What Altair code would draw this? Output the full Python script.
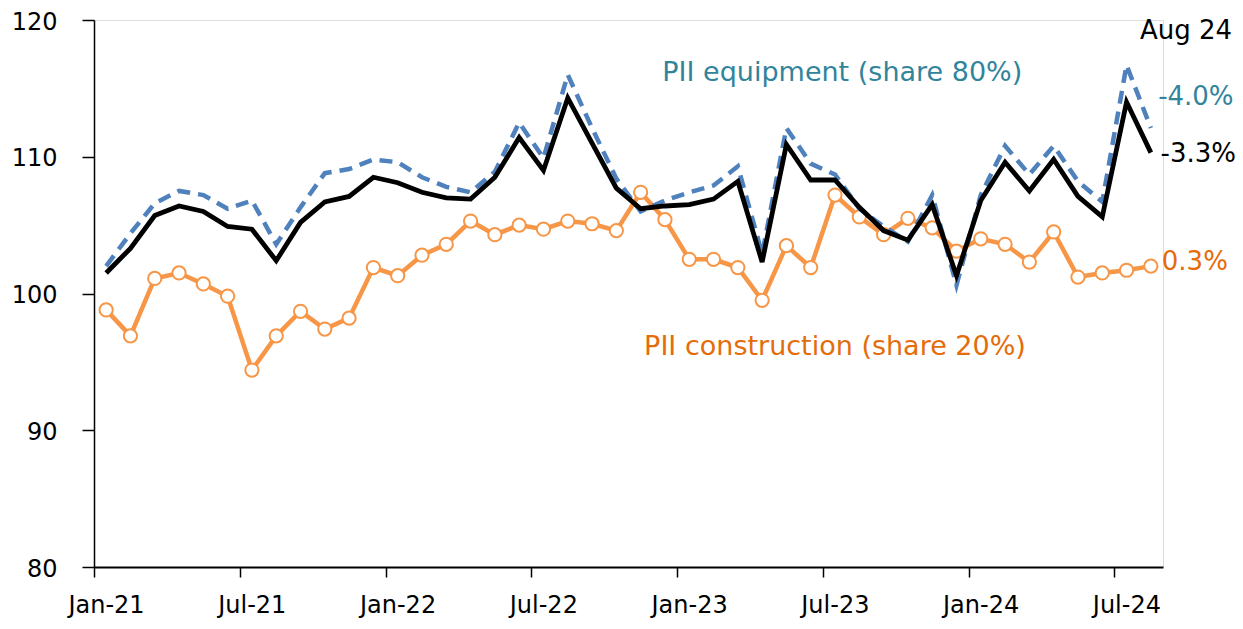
import altair as alt
import pandas as pd

months = ["Jan-21","Feb-21","Mar-21","Apr-21","May-21","Jun-21","Jul-21","Aug-21","Sep-21","Oct-21","Nov-21","Dec-21",
          "Jan-22","Feb-22","Mar-22","Apr-22","May-22","Jun-22","Jul-22","Aug-22","Sep-22","Oct-22","Nov-22","Dec-22",
          "Jan-23","Feb-23","Mar-23","Apr-23","May-23","Jun-23","Jul-23","Aug-23","Sep-23","Oct-23","Nov-23","Dec-23",
          "Jan-24","Feb-24","Mar-24","Apr-24","May-24","Jun-24","Jul-24","Aug-24"]

construction = [98.8, 96.9, 101.1, 101.5, 100.7, 99.8, 94.4, 96.9, 98.7, 97.4, 98.2, 101.9,
                101.3, 102.8, 103.6, 105.3, 104.3, 105.0, 104.7, 105.3, 105.1, 104.6, 107.4, 105.4,
                102.5, 102.5, 101.9, 99.5, 103.5, 101.9, 107.2, 105.6, 104.3, 105.5, 104.8, 103.1,
                104.0, 103.6, 102.3, 104.5, 101.2, 101.5, 101.7, 102.0]

total = [101.5, 103.3, 105.7, 106.4, 106.0, 104.9, 104.7, 102.4, 105.2, 106.7, 107.1, 108.5,
         108.1, 107.4, 107.0, 106.9, 108.5, 111.4, 109.0, 114.3, 111.0, 107.7, 106.2, 106.4,
         106.5, 106.9, 108.2, 102.3, 110.9, 108.3, 108.3, 106.3, 104.6, 103.9, 106.5, 101.3,
         106.8, 109.6, 107.5, 109.8, 107.1, 105.6, 114.0, 110.3]

equipment = [102.0, 104.4, 106.6, 107.5, 107.2, 106.2, 106.8, 103.6, 106.3, 108.8, 109.1, 109.8,
             109.6, 108.5, 107.8, 107.4, 108.9, 112.5, 109.9, 116.0, 112.1, 108.4, 106.0, 106.8,
             107.4, 107.9, 109.3, 102.9, 112.1, 109.5, 108.7, 106.2, 104.9, 103.8, 107.2, 100.6,
             107.2, 110.8, 108.7, 110.8, 108.2, 106.7, 116.7, 112.1]

tick_positions = [0, 6, 12, 18, 24, 30, 36, 42]
tick_labels = ["Jan-21", "Jul-21", "Jan-22", "Jul-22", "Jan-23", "Jul-23", "Jan-24", "Jul-24"]

ann_text = ["Aug 24", "PII equipment (share 80%)", "-4.0%", "-3.3%", "0.3%", "PII construction (share 20%)"]
ann_x = [44.95, 30.8, 43.8, 43.9, 43.95, 30.5]
ann_y = [119.2, 116.1, 114.4, 110.2, 102.3, 96.1]
ann_align = ["center", "center", "left", "left", "left", "center"]
ann_size = [26, 27, 26, 26, 26, 27]
ann_color = ["#000000", "#31849B", "#31849B", "#000000", "#E46C0A", "#E46C0A"]

FONT = "DejaVu Sans"

df = pd.DataFrame({
    "idx": [i + 0.5 for i in range(len(months))],
    "month": months,
    "construction": construction,
    "total": total,
    "equipment": equipment,
})

label_expr = "{" + ",".join(f"'{p}':'{l}'" for p, l in zip(tick_positions, tick_labels)) + "}[datum.value]"

x_scale = alt.Scale(domain=[0, 44], nice=False, zero=False)
y_scale = alt.Scale(domain=[80, 120], nice=False, zero=False)

x_axis = alt.Axis(values=tick_positions, labelExpr=label_expr, title=None, grid=False,
                  domainColor="black", domainWidth=2, tickColor="black", tickWidth=1.5, tickSize=10,
                  labelFontSize=24, labelFont=FONT, labelColor="black", labelPadding=16, labelOffset=12,
                  labelFlush=False, labelOverlap=False)
y_axis = alt.Axis(values=[80, 90, 100, 110, 120], title=None, grid=False,
                  domainColor="black", domainWidth=1.5, tickColor="black", tickWidth=1.5, tickSize=12,
                  labelFontSize=24, labelFont=FONT, labelColor="black", labelPadding=25, labelOffset=2)

base = alt.Chart(df)

equip_line = base.mark_line(color="#4F81BD", strokeWidth=4.5, strokeDash=[13, 8]).encode(
    x=alt.X("idx:Q", scale=x_scale, axis=x_axis), y=alt.Y("equipment:Q", scale=y_scale, axis=y_axis))
total_line = base.mark_line(color="black", strokeWidth=4.8).encode(
    x=alt.X("idx:Q", scale=x_scale), y=alt.Y("total:Q", scale=y_scale))
cons_line = base.mark_line(color="#F79646", strokeWidth=4.5).encode(
    x=alt.X("idx:Q", scale=x_scale), y=alt.Y("construction:Q", scale=y_scale))
cons_pts = base.mark_point(shape="circle", filled=True, fill="white", stroke="#F79646",
                           strokeWidth=2, size=175, opacity=1).encode(
    x=alt.X("idx:Q", scale=x_scale), y=alt.Y("construction:Q", scale=y_scale))

ann_df = pd.DataFrame({"t": ann_text, "x": ann_x, "y": ann_y, "a": ann_align, "s": ann_size, "c": ann_color})
texts = []
for al in ["left", "center"]:
    sub = ann_df[ann_df["a"] == al]
    texts.append(alt.Chart(sub).mark_text(align=al, baseline="middle", font=FONT).encode(
        x=alt.X("x:Q", scale=x_scale), y=alt.Y("y:Q", scale=y_scale), text="t:N",
        size=alt.Size("s:Q", scale=None),
        color=alt.Color("c:N", scale=None)))

chart = alt.layer(cons_line, cons_pts, equip_line, total_line, *texts).properties(
    width=1069, height=547,
    autosize=alt.AutoSizeParams(type="none"),
    padding={"left": 86, "top": 12, "right": 72, "bottom": 58}
).configure_view(stroke=None).configure(background="white")

chart.save("out.html", embed_options={"renderer": "svg", "actions": False})
